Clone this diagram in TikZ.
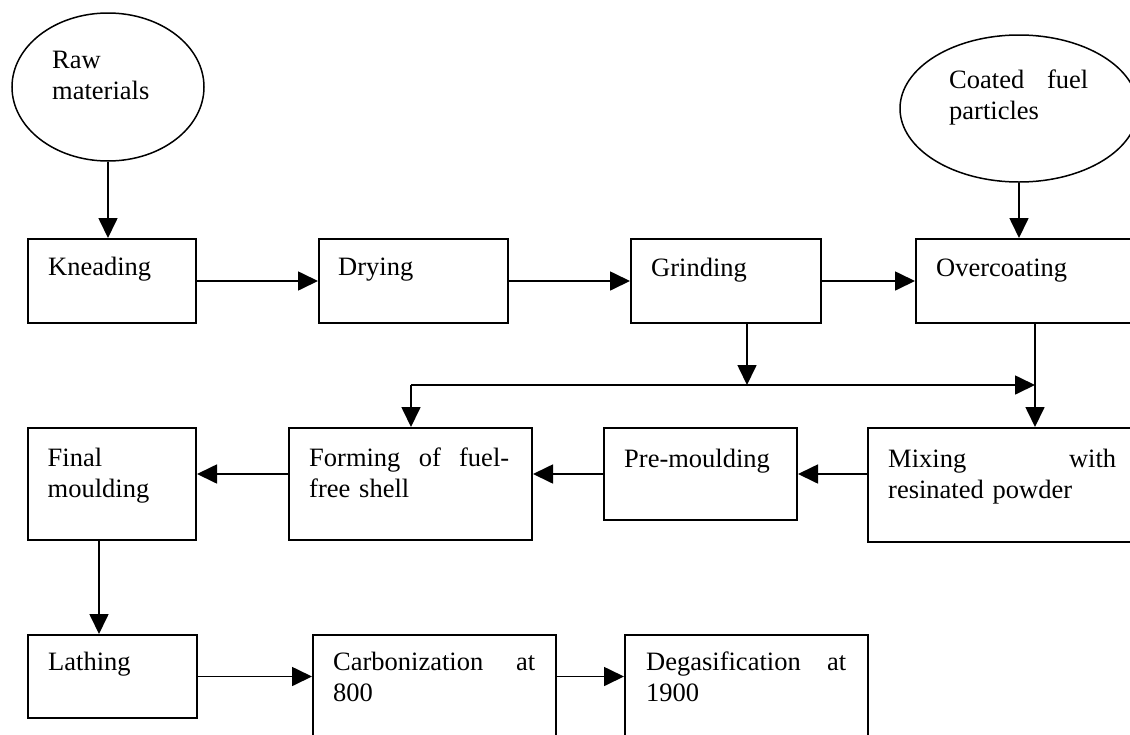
\documentclass[tikz,border=0pt]{standalone}
\usepackage{fontspec}
\setmainfont{Liberation Serif}
\usetikzlibrary{arrows.meta,calc,shapes.geometric}
\begin{document}
\begin{tikzpicture}[x=1pt,y=-1pt,
  box/.style={draw, line width=2pt, rectangle, anchor=north west, inner sep=0pt},
  oval/.style={draw, line width=1.5pt, ellipse, inner sep=0pt},
  txt/.style={anchor=base west, inner sep=0pt, align=left, font=\fontsize{26.5}{31}\selectfont},
  arr/.style={line width=1.7pt, -{Triangle[length=20pt,width=19pt]}},
  ln/.style={line width=1.7pt}]
\useasboundingbox (0,0) rectangle (1130,734);
\clip (0,0) rectangle (1130,734);
% ellipses
\node[oval, minimum width=192pt, minimum height=148pt] (raw) at (108,87) {};
\node[oval, minimum width=238pt, minimum height=147pt] (co) at (1019,108.5) {};
% boxes
\node[box, minimum width=168pt, minimum height=84pt] (kn) at (27,238) {};
\node[box, minimum width=189pt, minimum height=84pt] (dr) at (318,238) {};
\node[box, minimum width=190pt, minimum height=84pt] (gr) at (630,238) {};
\node[box, minimum width=250pt, minimum height=84pt] (ov) at (915,238) {};
\node[box, minimum width=168pt, minimum height=112pt] (fm) at (27,427) {};
\node[box, minimum width=243pt, minimum height=112pt] (fo) at (288,427) {};
\node[box, minimum width=193pt, minimum height=92pt] (pm) at (603,427) {};
\node[box, minimum width=280pt, minimum height=114pt] (mx) at (867,427) {};
\node[box, minimum width=169pt, minimum height=83pt] (la) at (27,634) {};
\node[box, minimum width=243pt, minimum height=150pt] (ca) at (312,634) {};
\node[box, minimum width=243pt, minimum height=150pt] (dg) at (624,634) {};
% texts
\node[txt, text width=130pt] (trw) at (52,68) {Raw\\materials};
\node[txt, text width=139pt] (tco) at (949,88) {Coated\hfill fuel\\particles};
\node[txt] (tkn) at (48,275) {Kneading};
\node[txt] (tdr) at (338,275) {Drying};
\node[txt] (tgr) at (651,276) {Grinding};
\node[txt] (tov) at (936,276) {Overcoating};
\node[txt, text width=130pt] (tfm) at (47.5,466) {Final\\moulding};
\node[txt, text width=200pt] (tfo) at (309,466) {Forming\hfill of\hfill fuel-\\free shell};
\node[txt] (tpm) at (624,467) {Pre-moulding};
\node[txt, text width=228pt] (tmx) at (888,467) {Mixing\hfill with\\resinated powder};
\node[txt] (tla) at (48,670) {Lathing};
\node[txt, text width=202pt] (tca) at (333,670) {Carbonization\hfill at\\800};
\node[txt, text width=200pt] (tdg) at (646,670) {Degasification\hfill at\\1900};
% junctions
\coordinate (jL) at (411,385);
\coordinate (jM) at (747,385);
\coordinate (jR) at (1035,385);
\coordinate (fmx) at (99,0);
% connectors
\draw[arr] (raw.south) -- (raw.south |- kn.north);
\draw[arr] (kn.east) -- (dr.west);
\draw[arr] (dr.east) -- (gr.west);
\draw[arr] (gr.east) -- (ov.west);
\draw[arr] (co.south) -- (co.south |- ov.north);
\draw[arr] (gr.south -| jM) -- (jM);
\draw[arr] (jL) -- (jR);
\draw[arr] (jL) -- (jL |- fo.north);
\draw[arr] (ov.south -| jR) -- (jR |- mx.north);
\draw[arr] (mx.west |- pm.east) -- (pm.east);
\draw[arr] (pm.west) -- (pm.west -| fo.east);
\draw[arr] (fo.west |- pm.west) -- (fm.east |- pm.west);
\draw[arr] (fm.south -| fmx) -- (la.north -| fmx);
\draw[arr] (la.east) -- (la.east -| ca.west);
\draw[arr] (ca.east |- la.east) -- (dg.west |- la.east);
\end{tikzpicture}
\end{document}
